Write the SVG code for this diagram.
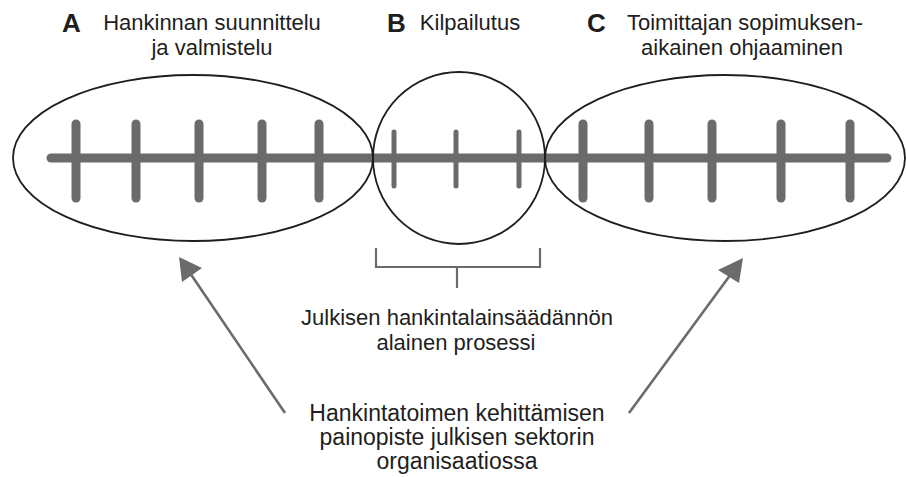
<svg xmlns="http://www.w3.org/2000/svg" width="906" height="477" viewBox="0 0 906 477">
<style>
.bg{fill:#ffffff}
.outline{fill:none;stroke:#1e1e1e;stroke-width:1.8}
.axis{stroke:#6b6b6b;stroke-width:9;stroke-linecap:round}
.tick{stroke:#6b6b6b;stroke-width:9;stroke-linecap:round}
.tick-thin{stroke:#6b6b6b;stroke-width:5;stroke-linecap:round}
.bracket{fill:none;stroke:#6b6b6b;stroke-width:2.2}
.arrow{stroke:#6b6b6b;stroke-width:2.6}
.head{fill:#6b6b6b}
.t{font-family:"Liberation Sans",Arial,sans-serif;font-size:23px;fill:#1e1e1e;text-anchor:middle}
.tt{font-family:"Liberation Sans",Arial,sans-serif;font-size:22px;fill:#1e1e1e;text-anchor:middle}
.tm{font-family:"Liberation Sans",Arial,sans-serif;font-size:22px;fill:#1e1e1e;text-anchor:middle}
.letter{font-family:"Liberation Sans",Arial,sans-serif;font-size:26px;font-weight:bold;fill:#1e1e1e}
</style>
<rect class="bg" x="0" y="0" width="906" height="477"/>

<g id="axis">
<line class="axis" x1="51" y1="158" x2="887" y2="158"/>
</g>

<g id="phaseA">
<ellipse class="outline" cx="193" cy="158" rx="180" ry="83"/>
<line class="tick" x1="76" y1="124" x2="76" y2="198"/>
<line class="tick" x1="136" y1="124" x2="136" y2="198"/>
<line class="tick" x1="199" y1="124" x2="199" y2="198"/>
<line class="tick" x1="262" y1="124" x2="262" y2="198"/>
<line class="tick" x1="319" y1="124" x2="319" y2="198"/>
<text class="letter" x="62" y="32">A</text>
<text class="tt" x="212" y="30">Hankinnan suunnittelu</text>
<text class="tt" x="212" y="55">ja valmistelu</text>
</g>

<g id="phaseB">
<circle class="outline" cx="459" cy="158" r="86"/>
<line class="tick-thin" x1="394" y1="132" x2="394" y2="186"/>
<line class="tick-thin" x1="456" y1="132" x2="456" y2="186"/>
<line class="tick-thin" x1="519" y1="132" x2="519" y2="186"/>
<text class="letter" x="387" y="32">B</text>
<text class="tt" x="470" y="30">Kilpailutus</text>
</g>

<g id="phaseC">
<ellipse class="outline" cx="725" cy="158" rx="180" ry="83"/>
<line class="tick" x1="583" y1="124" x2="583" y2="198"/>
<line class="tick" x1="649" y1="124" x2="649" y2="198"/>
<line class="tick" x1="712" y1="124" x2="712" y2="198"/>
<line class="tick" x1="781" y1="124" x2="781" y2="198"/>
<line class="tick" x1="850" y1="124" x2="850" y2="198"/>
<text class="letter" x="587" y="32">C</text>
<text class="tt" x="745" y="30">Toimittajan sopimuksen-</text>
<text class="tt" x="742" y="55">aikainen ohjaaminen</text>
</g>

<g id="law-process">
<text class="tm" x="457" y="325">Julkisen hankintalainsäädännön</text>
<text class="tm" x="456" y="350">alainen prosessi</text>
</g>

<g id="focus">
<text class="t" x="457" y="421">Hankintatoimen kehittämisen</text>
<text class="t" x="457" y="445">painopiste julkisen sektorin</text>
<text class="t" x="457" y="469">organisaatiossa</text>
</g>

<g id="connectors">
<path class="bracket" d="M376,248 V267 H540 V248 M457,267 V288"/>
<line class="arrow" x1="285" y1="413" x2="190" y2="273"/>
<polygon class="head" points="179,257 202,268 182,282"/>
<line class="arrow" x1="629" y1="413" x2="731" y2="274"/>
<polygon class="head" points="743,258 718,270 739,283"/>
</g>
</svg>
